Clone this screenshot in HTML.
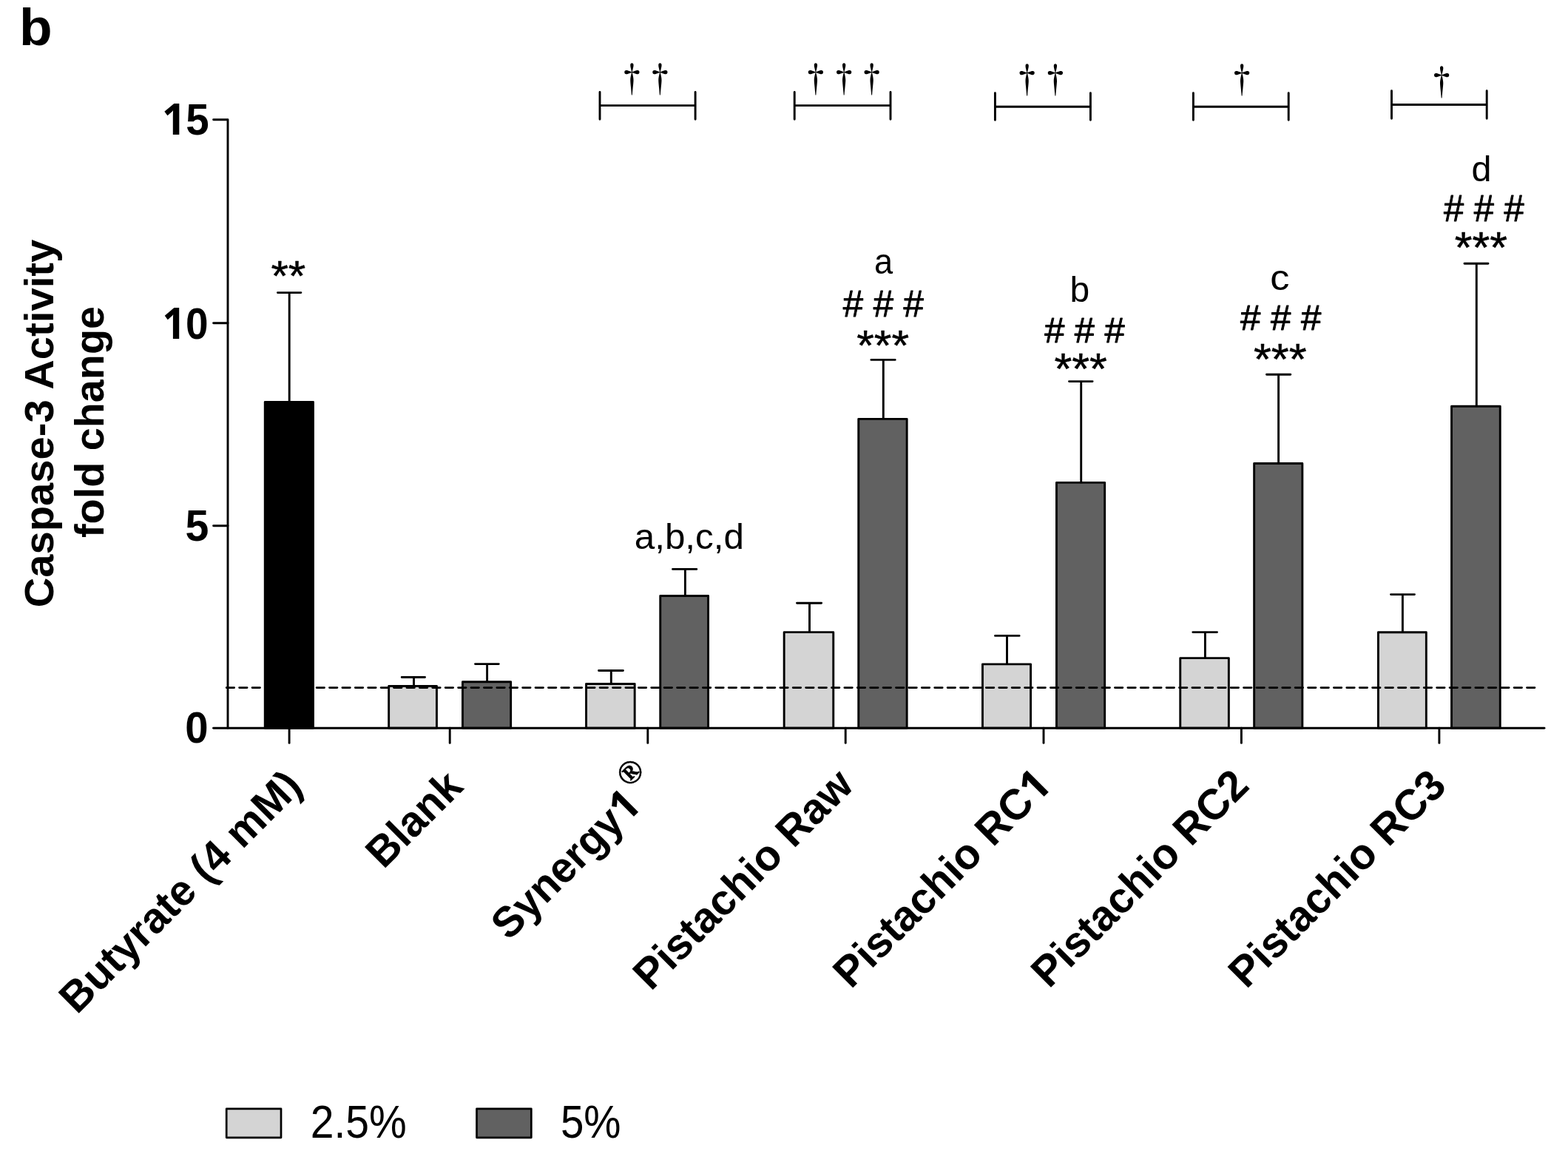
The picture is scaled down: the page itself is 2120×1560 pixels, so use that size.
<!DOCTYPE html>
<html><head><meta charset="utf-8"><title>Caspase-3 Activity</title><style>html,body{margin:0;padding:0;background:#fff;}svg{display:block;}</style></head><body>
<svg width="2120" height="1560" viewBox="0 0 2120 1560">
<rect width="2120" height="1560" fill="#fff"/>
<g stroke="#000" stroke-width="2.9" stroke-linecap="round" stroke-linejoin="round">
<path d="M391.2 543.4V395.6M375.4 395.6H406.9" fill="none"/>
<rect x="358.25" y="543.35" width="65.20" height="440.90" fill="#000"/>
<path d="M559.5 927.6V915.5M543.2 915.5H574.5" fill="none"/>
<rect x="525.65" y="927.55" width="64.80" height="56.70" fill="#d4d4d4"/>
<path d="M658.6 921.8V897.6M642.5 897.6H674.3" fill="none"/>
<rect x="625.45" y="921.75" width="65.20" height="62.50" fill="#616161"/>
<path d="M826.3 924.6V906.5M809.5 906.5H842.4" fill="none"/>
<rect x="792.55" y="924.55" width="65.60" height="59.70" fill="#d4d4d4"/>
<path d="M926.4 805.5V769.4M909.5 769.4H941.8" fill="none"/>
<rect x="892.75" y="805.45" width="64.80" height="178.80" fill="#616161"/>
<path d="M1094.5 854.7V815.3M1077.5 815.3H1110.6" fill="none"/>
<rect x="1060.15" y="854.65" width="66.60" height="129.60" fill="#d4d4d4"/>
<path d="M1194.3 566.4V486.4M1177.9 486.4H1210.2" fill="none"/>
<rect x="1160.75" y="566.35" width="65.40" height="417.90" fill="#616161"/>
<path d="M1361.5 897.9V859.4M1345.5 859.4H1378.1" fill="none"/>
<rect x="1328.45" y="897.85" width="65.10" height="86.40" fill="#d4d4d4"/>
<path d="M1461.7 652.4V515.6M1445.5 515.6H1477.1" fill="none"/>
<rect x="1428.45" y="652.35" width="65.20" height="331.90" fill="#616161"/>
<path d="M1629.4 889.7V854.6M1612.8 854.6H1645.5" fill="none"/>
<rect x="1595.75" y="889.65" width="65.60" height="94.60" fill="#d4d4d4"/>
<path d="M1728.6 626.6V506.3M1712.5 506.3H1744.8" fill="none"/>
<rect x="1695.65" y="626.55" width="65.20" height="357.70" fill="#616161"/>
<path d="M1896.4 854.8V803.6M1880.5 803.6H1912.5" fill="none"/>
<rect x="1863.45" y="854.75" width="64.90" height="129.50" fill="#d4d4d4"/>
<path d="M1996.3 549.2V356.2M1980.0 356.2H2012.0" fill="none"/>
<rect x="1962.55" y="549.25" width="65.70" height="435.00" fill="#616161"/>
</g>
<path d="M306.24 929.6H2075" stroke="#000" stroke-width="2.9" stroke-dasharray="10.4 7.009" stroke-linecap="round" fill="none"/>
<g stroke="#000" stroke-width="2.9" fill="none" stroke-linecap="round" stroke-linejoin="round">
<path d="M288.6 161.7H308V984.25"/>
<path d="M288.6 984.25H2088"/>
<path d="M288.6 436.7H308"/>
<path d="M288.6 710.7H308"/>
<path d="M391.1 984.25V1004.4"/>
<path d="M608.2 984.25V1004.4"/>
<path d="M875.8 984.25V1004.4"/>
<path d="M1143.2 984.25V1004.4"/>
<path d="M1411 984.25V1004.4"/>
<path d="M1678.4 984.25V1004.4"/>
<path d="M1945.9 984.25V1004.4"/>
</g>
<text transform="translate(26.00,60.50) scale(1.0293,1.0000)" font-family="Liberation Sans, Arial, sans-serif" font-weight="bold" font-size="71" text-anchor="start">b</text>
<text transform="translate(282.80,182.20) scale(0.9421,0.9960)" font-family="Liberation Sans, Arial, sans-serif" font-weight="bold" font-size="60" text-anchor="end"><tspan font-family="Noto Sans, Liberation Sans, sans-serif">1</tspan>5</text>
<text transform="translate(281.50,457.70) scale(0.9162,0.9778)" font-family="Liberation Sans, Arial, sans-serif" font-weight="bold" font-size="60" text-anchor="end"><tspan font-family="Noto Sans, Liberation Sans, sans-serif">1</tspan>0</text>
<text transform="translate(282.45,730.90) scale(0.9552,1.0000)" font-family="Liberation Sans, Arial, sans-serif" font-weight="bold" font-size="60" text-anchor="end">5</text>
<text transform="translate(281.50,1004.35) scale(0.9383,1.0026)" font-family="Liberation Sans, Arial, sans-serif" font-weight="bold" font-size="60" text-anchor="end">0</text>
<text transform="translate(71.50,572.55) rotate(-90) scale(0.9688,0.9670)" font-family="Liberation Sans, Arial, sans-serif" font-weight="bold" font-size="58" text-anchor="middle">Caspase-3 Activity</text>
<text transform="translate(140.15,570.50) rotate(-90) scale(0.9616,0.9464)" font-family="Liberation Sans, Arial, sans-serif" font-weight="bold" font-size="58" text-anchor="middle">fold change</text>
<text transform="translate(411.05,1065.45) rotate(-45) scale(0.9908,1.0000)" font-family="Liberation Sans, Arial, sans-serif" font-weight="bold" font-size="58" text-anchor="end">Butyrate (4 mM)</text>
<text transform="translate(628.50,1065.95) rotate(-45) scale(0.9859,1.0000)" font-family="Liberation Sans, Arial, sans-serif" font-weight="bold" font-size="58" text-anchor="end">Blank</text>
<text transform="translate(869.45,1091.35) rotate(-45) scale(0.9791,1.0000)" font-family="Liberation Sans, Arial, sans-serif" font-weight="bold" font-size="58" text-anchor="end">Synergy<tspan font-family="Noto Sans, Liberation Sans, sans-serif">1</tspan></text>
<text transform="translate(1156.65,1063.95) rotate(-45) scale(0.9954,1.0000)" font-family="Liberation Sans, Arial, sans-serif" font-weight="bold" font-size="58" text-anchor="end">Pistachio Raw</text>
<text transform="translate(1424.25,1064.30) rotate(-45) scale(0.9901,1.0000)" font-family="Liberation Sans, Arial, sans-serif" font-weight="bold" font-size="58" text-anchor="end">Pistachio RC<tspan font-family="Noto Sans, Liberation Sans, sans-serif">1</tspan></text>
<text transform="translate(1691.35,1064.60) rotate(-45) scale(0.9902,1.0000)" font-family="Liberation Sans, Arial, sans-serif" font-weight="bold" font-size="58" text-anchor="end">Pistachio RC2</text>
<text transform="translate(1958.15,1065.00) rotate(-45) scale(0.9905,1.0000)" font-family="Liberation Sans, Arial, sans-serif" font-weight="bold" font-size="58" text-anchor="end">Pistachio RC3</text>
<text transform="translate(862.25,1054.55) rotate(-45) scale(1.1101,1.1101)" font-family="Liberation Serif, serif" font-weight="bold" font-size="40" text-anchor="middle" stroke="#000" stroke-width="0.5" stroke-linejoin="round">®</text>
<text transform="translate(389.85,392.95) scale(1.0387,0.9959)" font-family="Liberation Sans, Arial, sans-serif" font-size="58" text-anchor="middle" stroke="#000" stroke-width="0.5" stroke-linejoin="round">**</text>
<text transform="translate(931.80,742.45) scale(1.0288,1.0123)" font-family="Liberation Sans, Arial, sans-serif" font-size="48" text-anchor="middle">a,b,c,d</text>
<text transform="translate(1194.50,369.95) scale(0.9426,0.9967)" font-family="Liberation Sans, Arial, sans-serif" font-size="48" text-anchor="middle">a</text>
<text transform="translate(1194.35,428.00) scale(1.0216,1.0425)" font-family="Liberation Sans, Arial, sans-serif" font-size="48" text-anchor="middle" stroke="#000" stroke-width="0.9" stroke-linejoin="round"># # #</text>
<text transform="translate(1193.65,487.00) scale(1.0470,1.0000)" font-family="Liberation Sans, Arial, sans-serif" font-size="58" text-anchor="middle" stroke="#000" stroke-width="0.5" stroke-linejoin="round">***</text>
<text transform="translate(1459.85,408.45) scale(0.9983,1.0145)" font-family="Liberation Sans, Arial, sans-serif" font-size="48" text-anchor="middle">b</text>
<text transform="translate(1466.40,462.80) scale(1.0169,1.0070)" font-family="Liberation Sans, Arial, sans-serif" font-size="48" text-anchor="middle" stroke="#000" stroke-width="0.9" stroke-linejoin="round"># # #</text>
<text transform="translate(1461.10,518.60) scale(1.0548,1.0107)" font-family="Liberation Sans, Arial, sans-serif" font-size="58" text-anchor="middle" stroke="#000" stroke-width="0.5" stroke-linejoin="round">***</text>
<text transform="translate(1730.45,392.05) scale(1.0911,1.0196)" font-family="Liberation Sans, Arial, sans-serif" font-size="48" text-anchor="middle">c</text>
<text transform="translate(1731.70,446.40) scale(1.0244,1.0070)" font-family="Liberation Sans, Arial, sans-serif" font-size="48" text-anchor="middle" stroke="#000" stroke-width="0.9" stroke-linejoin="round"># # #</text>
<text transform="translate(1730.75,505.95) scale(1.0594,1.0256)" font-family="Liberation Sans, Arial, sans-serif" font-size="58" text-anchor="middle" stroke="#000" stroke-width="0.5" stroke-linejoin="round">***</text>
<text transform="translate(2002.90,245.15) scale(1.0117,1.0086)" font-family="Liberation Sans, Arial, sans-serif" font-size="48" text-anchor="middle">d</text>
<text transform="translate(2006.35,299.45) scale(1.0178,1.0221)" font-family="Liberation Sans, Arial, sans-serif" font-size="48" text-anchor="middle" stroke="#000" stroke-width="0.9" stroke-linejoin="round"># # #</text>
<text transform="translate(2002.40,354.95) scale(1.0515,1.0256)" font-family="Liberation Sans, Arial, sans-serif" font-size="58" text-anchor="middle" stroke="#000" stroke-width="0.5" stroke-linejoin="round">***</text>
<g stroke="#000" stroke-width="2.9" fill="none" stroke-linecap="round">
<path d="M811 124.55V161.25M811 142.6H940.1M940.1 124.55V161.25"/>
<path d="M1074.2 124.55V161.25M1074.2 142.6H1204M1204 124.55V161.25"/>
<path d="M1345.4 125.65V162.35M1345.4 144.3H1474.4M1474.4 125.65V162.35"/>
<path d="M1613.4 125.65V162.35M1613.4 144.3H1742.2M1742.2 125.65V162.35"/>
<path d="M1881.5 122.75V160.25M1881.5 141.5H2010.2M2010.2 122.75V160.25"/>
</g>
<text transform="translate(854.30,125.00) scale(0.6866,0.8227)" font-family="Noto Serif CJK SC, serif" font-weight="500" font-size="60" text-anchor="middle">†</text>
<text transform="translate(892.30,125.00) scale(0.6866,0.8227)" font-family="Noto Serif CJK SC, serif" font-weight="500" font-size="60" text-anchor="middle">†</text>
<text transform="translate(1102.90,125.00) scale(0.6866,0.8227)" font-family="Noto Serif CJK SC, serif" font-weight="500" font-size="60" text-anchor="middle">†</text>
<text transform="translate(1141.10,125.00) scale(0.6866,0.8227)" font-family="Noto Serif CJK SC, serif" font-weight="500" font-size="60" text-anchor="middle">†</text>
<text transform="translate(1178.60,125.00) scale(0.6866,0.8227)" font-family="Noto Serif CJK SC, serif" font-weight="500" font-size="60" text-anchor="middle">†</text>
<text transform="translate(1388.60,126.05) scale(0.6866,0.8170)" font-family="Noto Serif CJK SC, serif" font-weight="500" font-size="60" text-anchor="middle">†</text>
<text transform="translate(1426.80,126.05) scale(0.6866,0.8170)" font-family="Noto Serif CJK SC, serif" font-weight="500" font-size="60" text-anchor="middle">†</text>
<text transform="translate(1679.20,126.05) scale(0.6866,0.8170)" font-family="Noto Serif CJK SC, serif" font-weight="500" font-size="60" text-anchor="middle">†</text>
<text transform="translate(1949.10,128.90) scale(0.6866,0.8227)" font-family="Noto Serif CJK SC, serif" font-weight="500" font-size="60" text-anchor="middle">†</text>
<rect x="306.2" y="1498.8" width="73.8" height="39" fill="#d4d4d4" stroke="#000" stroke-width="2.7" stroke-linejoin="round"/>
<rect x="644.5" y="1498.8" width="73.8" height="39" fill="#616161" stroke="#000" stroke-width="2.7" stroke-linejoin="round"/>
<text transform="translate(419.75,1537.90) scale(0.9508,1.0488)" font-family="Liberation Sans, Arial, sans-serif" font-size="60" text-anchor="start">2.5%</text>
<text transform="translate(757.90,1537.90) scale(0.9408,1.0488)" font-family="Liberation Sans, Arial, sans-serif" font-size="60" text-anchor="start">5%</text>
</svg></body></html>
